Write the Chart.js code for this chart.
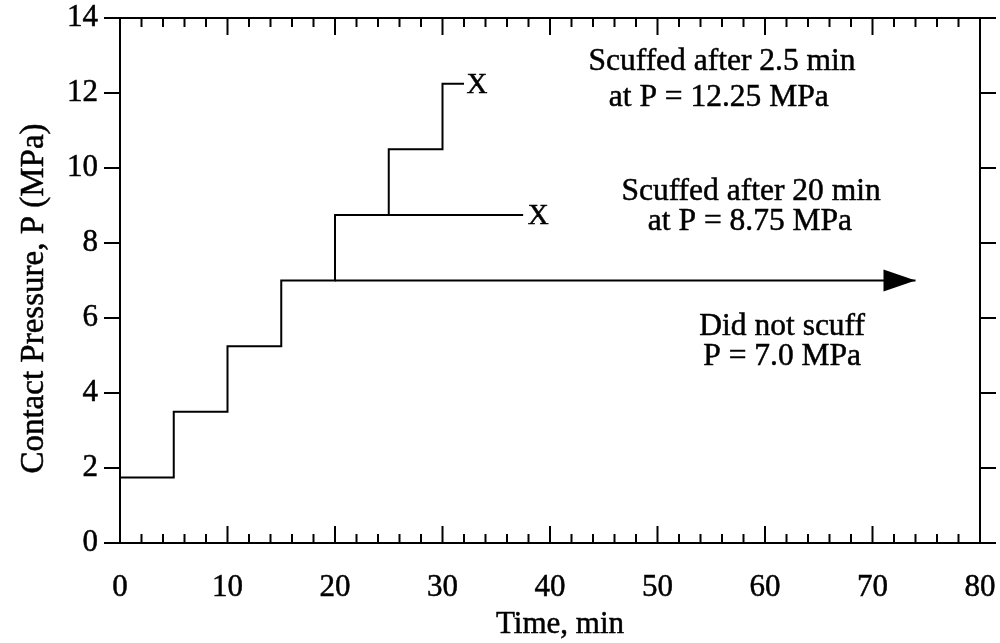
<!DOCTYPE html>
<html lang="en">
<head>
  <meta charset="UTF-8">
  <title>Contact pressure vs. time, step loading scuff test</title>
  <script src="https://cdn.jsdelivr.net/npm/chart.js@4"></script>
  <style>
    html, body {
      margin: 0;
      padding: 0;
      background: #fff;
    }
    #wrap {
      width: 1000px;
      height: 643px;
    }
  </style>
</head>
<body>
  <div id="wrap">
    <canvas id="scuffChart" width="1000" height="643"></canvas>
  </div>

  <script>
    // load raised 1.75 MPa every 5 min until scuffing
    const stepTimes = [0, 5, 10, 15, 20, 25, 30, 32];
    const stepPressures = [1.75, 3.5, 5.25, 7.0, 8.75, 10.5, 12.25, 12.25];

    // second run held at 8.75 MPa
    const holdTimes = [20, 37.5];
    const holdPressures = [8.75, 8.75];

    // third run held at 7.0 MPa, no scuffing (arrow tip at the end)
    const runTimes = [20, 74];
    const runPressures = [7.0, 7.0];

    // scuff markers
    const scuffTimes = [33.2, 38.9];
    const scuffPressures = [12.2, 8.7];

    // notes, one entry per text line (anchor = centre / baseline)
    const noteLines = [
      'Scuffed after 2.5 min', 'at P = 12.25 MPa',
      'Scuffed after 20 min', 'at P = 8.75 MPa',
      'Did not scuff', 'P = 7.0 MPa'
    ];
    const noteTimes = [56.0, 55.7, 58.7, 58.6, 61.6, 61.6];
    const notePressures = [12.61, 11.65, 9.15, 8.35, 5.55, 4.75];

    const xTickLabels = ['0', '10', '20', '30', '40', '50', '60', '70', '80'];
    const yTickLabels = ['0', '2', '4', '6', '8', '10', '12', '14'];

    const serif = '"Liberation Serif", "Times New Roman", serif';
    const inkWidth = 0.5; // slight stroke so the serif text is not too thin

    function toPoints(xs, ys) {
      return xs.map((x, i) => ({ x: x, y: ys[i] }));
    }

    // keep the plot box fixed: no extra room for overhanging tick labels
    function noOverhang(scale) {
      scale.paddingTop = 0;
      scale.paddingBottom = 0;
      scale.paddingLeft = 0;
      scale.paddingRight = 0;
    }

    function inkText(ctx, text, x, y) {
      ctx.fillText(text, x, y);
      ctx.strokeText(text, x, y);
    }

    // frame with inward x ticks, outward y ticks, arrow head, markers and text
    const framePlugin = {
      id: 'frame',
      afterDatasetsDraw(chart) {
        const ctx = chart.ctx;
        const area = chart.chartArea;
        const xs = chart.scales.x;
        const ys = chart.scales.y;

        ctx.save();
        ctx.strokeStyle = '#000';
        ctx.fillStyle = '#000';
        ctx.lineWidth = 2;
        ctx.lineCap = 'butt';

        ctx.strokeRect(area.left, area.top, area.right - area.left, area.bottom - area.top);

        ctx.beginPath();
        for (let v = 0; v <= 80; v += 2) {
          const px = xs.getPixelForValue(v);
          const len = v % 10 === 0 ? 17 : 9;
          ctx.moveTo(px, area.bottom);
          ctx.lineTo(px, area.bottom - len);
          ctx.moveTo(px, area.top);
          ctx.lineTo(px, area.top + len);
        }
        for (let v = 0; v <= 14; v += 2) {
          const py = ys.getPixelForValue(v);
          ctx.moveTo(area.left - 16, py);
          ctx.lineTo(area.left, py);
          ctx.moveTo(area.right, py);
          ctx.lineTo(area.right + 16, py);
        }
        ctx.stroke();

        // arrow head at the end of the 7.0 MPa run
        const last = runTimes.length - 1;
        const tipX = xs.getPixelForValue(runTimes[last]);
        const tipY = ys.getPixelForValue(runPressures[last]);
        ctx.beginPath();
        ctx.moveTo(tipX, tipY);
        ctx.lineTo(tipX - 32, tipY - 11);
        ctx.lineTo(tipX - 32, tipY + 11);
        ctx.closePath();
        ctx.fill();

        ctx.lineWidth = inkWidth;
        ctx.textAlign = 'center';
        ctx.textBaseline = 'middle';
        ctx.font = '29px ' + serif;
        scuffTimes.forEach((t, i) => {
          inkText(ctx, 'X', xs.getPixelForValue(t), ys.getPixelForValue(scuffPressures[i]));
        });

        ctx.textBaseline = 'alphabetic';
        ctx.font = '31.5px ' + serif;
        noteLines.forEach((line, i) => {
          inkText(ctx, line, xs.getPixelForValue(noteTimes[i]), ys.getPixelForValue(notePressures[i]));
        });

        // axis titles
        ctx.font = '31px ' + serif;
        inkText(ctx, 'Time, min', (area.left + area.right) / 2 + 10, 633);
        ctx.translate(43, (area.top + area.bottom) / 2 + 18);
        ctx.rotate(-Math.PI / 2);
        ctx.font = '33px ' + serif;
        inkText(ctx, 'Contact Pressure, P (MPa)', 0, 0);

        ctx.restore();
      }
    };

    const lineStyle = {
      borderColor: '#000',
      borderWidth: 2,
      pointRadius: 0,
      fill: false,
      tension: 0
    };

    const tickFont = { family: serif, size: 31 };

    new Chart(document.getElementById('scuffChart'), {
      type: 'line',
      data: {
        datasets: [
          Object.assign({ label: 'Step loading', data: toPoints(stepTimes, stepPressures), stepped: true }, lineStyle),
          Object.assign({ label: 'Held 8.75 MPa', data: toPoints(holdTimes, holdPressures) }, lineStyle),
          Object.assign({ label: 'Held 7.0 MPa', data: toPoints(runTimes, runPressures) }, lineStyle)
        ]
      },
      options: {
        responsive: false,
        animation: false,
        layout: { padding: { top: 18, right: 20, left: 0, bottom: 0 } },
        plugins: {
          legend: { display: false },
          tooltip: { enabled: false }
        },
        scales: {
          x: {
            type: 'linear',
            min: 0,
            max: 80,
            grid: { display: false, drawTicks: false },
            border: { display: false },
            afterFit(scale) {
              scale.height = 100;
              noOverhang(scale);
            },
            ticks: {
              stepSize: 10,
              autoSkip: false,
              maxRotation: 0,
              padding: 26,
              color: '#000',
              textStrokeColor: '#000',
              textStrokeWidth: inkWidth,
              font: tickFont,
              callback: (v) => xTickLabels[v / 10]
            }
          },
          y: {
            min: 0,
            max: 14,
            grid: { display: false, drawTicks: false },
            border: { display: false },
            afterFit(scale) {
              scale.width = 120;
              noOverhang(scale);
            },
            ticks: {
              stepSize: 2,
              padding: 22,
              color: '#000',
              textStrokeColor: '#000',
              textStrokeWidth: inkWidth,
              font: tickFont,
              callback: (v) => yTickLabels[v / 2]
            }
          }
        }
      },
      plugins: [framePlugin]
    });
  </script>
</body>
</html>
